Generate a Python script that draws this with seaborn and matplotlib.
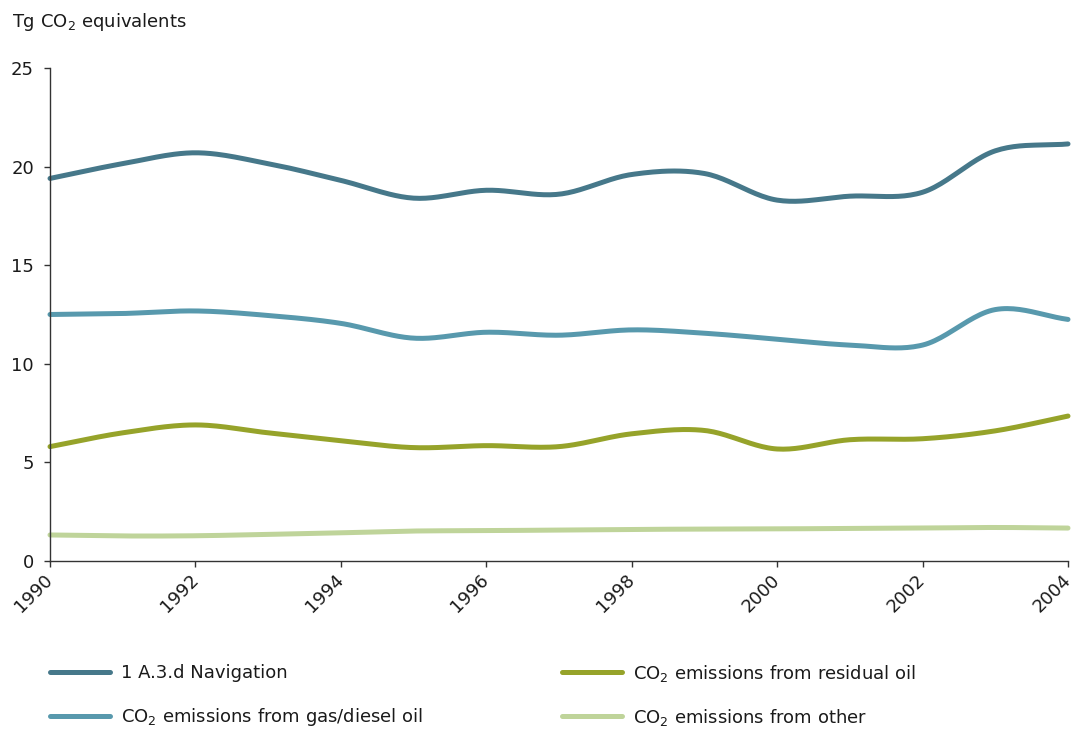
import numpy as np
import pandas as pd
import matplotlib
matplotlib.use("Agg")
import matplotlib.pyplot as plt
from matplotlib.lines import Line2D
import seaborn as sns

# values (Tg CO2 equivalents)
years = list(range(1990, 2005))
navigation = [19.4, 20.15, 20.7, 20.15, 19.3, 18.4, 18.8, 18.6, 19.6, 19.65,
              18.3, 18.5, 18.7, 20.8, 21.15]
gas_diesel = [12.5, 12.55, 12.68, 12.45, 12.05, 11.3, 11.6, 11.45, 11.72, 11.55,
              11.25, 10.95, 10.95, 12.75, 12.25]
residual_oil = [5.8, 6.5, 6.9, 6.5, 6.1, 5.75, 5.85, 5.8, 6.45, 6.62,
                5.68, 6.15, 6.2, 6.6, 7.35]
other = [1.32, 1.27, 1.28, 1.35, 1.43, 1.52, 1.54, 1.57, 1.6, 1.62,
         1.63, 1.65, 1.67, 1.7, 1.67]

labels = [
    "1 A.3.d Navigation",
    "CO$_2$ emissions from gas/diesel oil",
    "CO$_2$ emissions from residual oil",
    "CO$_2$ emissions from other",
]
colors = ["#46788a", "#5899ad", "#96a32a", "#bfd49a"]
x_ticks = [1990, 1992, 1994, 1996, 1998, 2000, 2002, 2004]


def smooth(x, y, n=24):
    # catmull-rom curve through the yearly points, only for drawing
    x = np.asarray(x, float)
    y = np.asarray(y, float)
    xp = np.r_[2 * x[0] - x[1], x, 2 * x[-1] - x[-2]]
    yp = np.r_[2 * y[0] - y[1], y, 2 * y[-1] - y[-2]]
    t = np.linspace(0, 1, n, endpoint=False)
    h00 = 2 * t**3 - 3 * t**2 + 1
    h10 = t**3 - 2 * t**2 + t
    h01 = -2 * t**3 + 3 * t**2
    h11 = t**3 - t**2
    xs, ys = [], []
    for i in range(1, len(xp) - 2):
        p0, p1, p2, p3 = yp[i - 1:i + 3]
        m1 = (p2 - p0) / 2
        m2 = (p3 - p1) / 2
        ys.append(h00 * p1 + h10 * m1 + h01 * p2 + h11 * m2)
        xs.append(xp[i] + t * (xp[i + 1] - xp[i]))
    xs.append([x[-1]])
    ys.append([y[-1]])
    return np.concatenate(xs), np.concatenate(ys)


sns.set_theme(style="ticks")
plt.rcParams["font.family"] = ["DejaVu Sans"]
plt.rcParams["mathtext.default"] = "regular"
fs = 13

frames = []
for name, values in zip(labels, [navigation, gas_diesel, residual_oil, other]):
    sx, sy = smooth(years, values)
    frames.append(pd.DataFrame({"year": sx, "value": sy, "series": name}))
data = pd.concat(frames, ignore_index=True)

fig = plt.figure(figsize=(10.75, 7.29), dpi=100)
ax = fig.add_axes([50 / 1075, 1 - 561 / 729, 1018 / 1075, 493 / 729])

sns.lineplot(data=data, x="year", y="value", hue="series", palette=colors,
             linewidth=3.6, sort=False, estimator=None, legend=False, ax=ax)
for line in ax.get_lines():
    line.set_solid_capstyle("round")
    line.set_clip_on(False)

ax.set_xlim(1990, 2004)
ax.set_ylim(0, 25)
ax.set_xticks(x_ticks)
ax.set_yticks([0, 5, 10, 15, 20, 25])
ax.set_xlabel("")
ax.set_ylabel("")
sns.despine(ax=ax)
for side in ["left", "bottom"]:
    ax.spines[side].set_color("#333333")
    ax.spines[side].set_linewidth(1.0)
ax.tick_params(axis="both", direction="out", length=4.5, width=1.0,
               color="#333333", labelcolor="#1a1a1a", labelsize=fs)
ax.tick_params(axis="y", pad=7)
ax.tick_params(axis="x", pad=7)
plt.setp(ax.get_xticklabels(), rotation=45, ha="right", va="center",
         rotation_mode="anchor")

fig.text(12 / 1075, 1 - 22 / 729, "Tg CO$_2$ equivalents", fontsize=fs,
         color="#1a1a1a", va="center", ha="left")

# one legend per entry so the rows sit where the reference has them
legend_kw = dict(loc="center left", frameon=False, borderpad=0, borderaxespad=0,
                 handlelength=3.3, handletextpad=0.65, fontsize=fs,
                 labelcolor="#1a1a1a")
spots = [(50, 673), (50, 717), (562, 673), (562, 717)]
for c, lab, (px, py) in zip(colors, labels, spots):
    h = Line2D([], [], color=c, linewidth=3.6, solid_capstyle="round")
    fig.legend([h], [lab], bbox_to_anchor=(px / 1075, 1 - py / 729), **legend_kw)

fig.savefig("out.png", dpi=100)
